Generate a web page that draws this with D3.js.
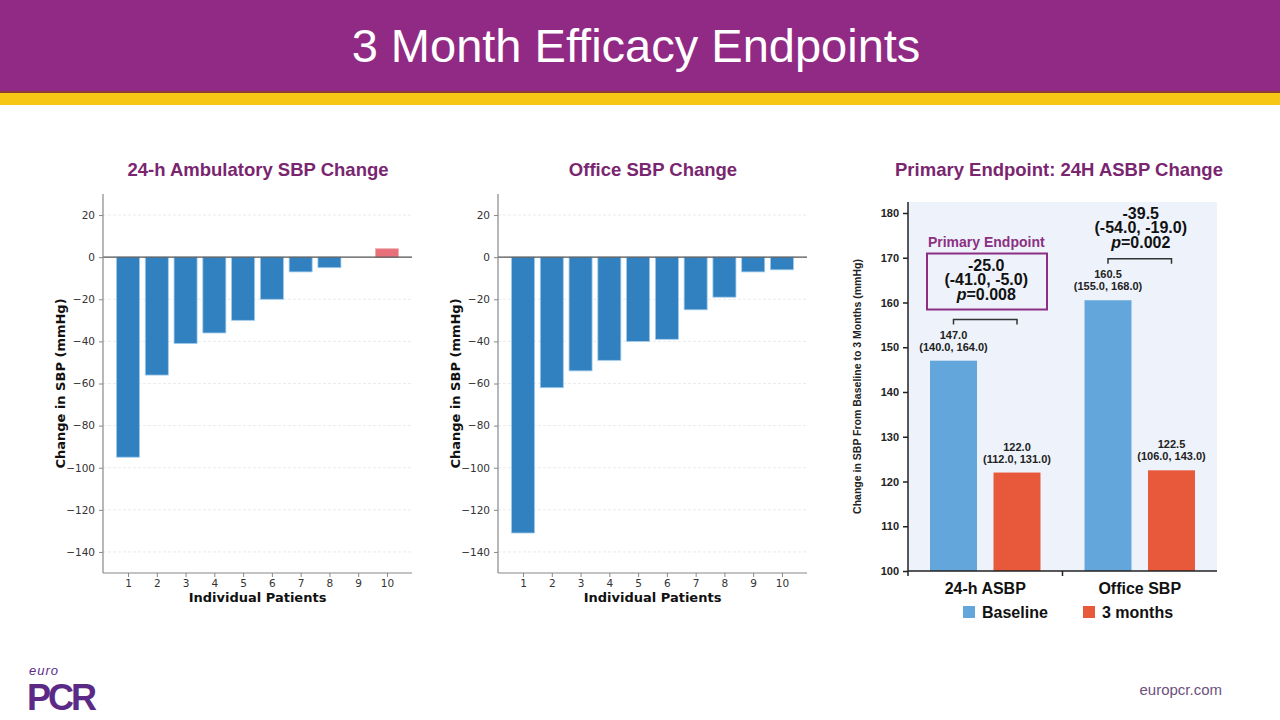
<!DOCTYPE html>
<html>
<head>
<meta charset="utf-8">
<script src="https://cdn.jsdelivr.net/npm/d3@7"></script>
<style>
  body { margin: 0; background: #fff; }
  svg { display: block; }
</style>
</head>
<body>
<svg id="svg" width="1280" height="720"></svg>
<script>
// data
var patients = [1, 2, 3, 4, 5, 6, 7, 8, 9, 10];
var ambulatoryChange = [-95, -56, -41, -36, -30, -20, -7, -5, 0, 4];
var officeChange = [-131, -62, -54, -49, -40, -39, -25, -19, -7, -6];
var changeTicks = [20, 0, -20, -40, -60, -80, -100, -120, -140];

var endpointGroups = ["24-h ASBP", "Office SBP"];
var seriesNames = ["Baseline", "3 months"];
var baselineValues = [147.0, 160.5];
var monthValues = [122.0, 122.5];
var baselineCI = ["(140.0, 164.0)", "(155.0, 168.0)"];
var monthCI = ["(112.0, 131.0)", "(106.0, 143.0)"];
var diffValues = ["-25.0", "-39.5"];
var diffCI = ["(-41.0, -5.0)", "(-54.0, -19.0)"];
var pValues = ["0.008", "0.002"];
var sbpTicks = [100, 110, 120, 130, 140, 150, 160, 170, 180];

var svg = d3.select("#svg");
var slideFont = "'Liberation Sans', Arial, sans-serif";
var mplFont = "'DejaVu Sans', sans-serif";
var purple = "#7a2570";

// header
svg.append("rect").attr("x", 0).attr("y", 0).attr("width", 1280).attr("height", 92).attr("fill", "#912a84");
svg.append("rect").attr("x", 0).attr("y", 91).attr("width", 1280).attr("height", 2).attr("fill", "#8a3b3a");
svg.append("rect").attr("x", 0).attr("y", 93).attr("width", 1280).attr("height", 12).attr("fill", "#f7c716");
svg.append("text").attr("x", 636).attr("y", 62).attr("text-anchor", "middle")
  .style("font-family", slideFont).style("font-size", "47px").attr("fill", "#fff")
  .text("3 Month Efficacy Endpoints");

// panel titles
var titles = [[258, "24-h Ambulatory SBP Change"], [653, "Office SBP Change"], [1059, "Primary Endpoint: 24H ASBP Change"]];
titles.forEach(function (t) {
  svg.append("text").attr("x", t[0]).attr("y", 176).attr("text-anchor", "middle")
    .style("font-family", slideFont).style("font-size", "18.5px").style("font-weight", "bold")
    .attr("fill", purple).text(t[1]);
});

// waterfall bar charts
function waterfall(left, right, values, ylabelX) {
  var g = svg.append("g");
  var y = d3.scaleLinear().domain([-150, 30]).range([573, 194]);
  var x = d3.scaleLinear().domain([0.13, 10.87]).range([left, right]);
  var step = x(2) - x(1);

  // grid
  g.selectAll(".grid").data(changeTicks).enter().append("line")
    .attr("x1", left).attr("x2", right)
    .attr("y1", function (d) { return y(d); }).attr("y2", function (d) { return y(d); })
    .attr("stroke", "#e6e6e6").attr("stroke-width", 0.8).attr("stroke-dasharray", "3,2");

  g.selectAll(".bar").data(values).enter().append("rect")
    .attr("x", function (d, i) { return x(patients[i]) - step * 0.4; })
    .attr("width", step * 0.8)
    .attr("y", function (d) { return y(Math.max(0, d)); })
    .attr("height", function (d) { return Math.abs(y(d) - y(0)); })
    .attr("fill", function (d) { return d > 0 ? "#e8707b" : "#3180bf"; })
    .attr("stroke", function (d) { return d > 0 ? "#f2a8ae" : "#9fcbec"; })
    .attr("stroke-width", 0.8);

  // zero line
  g.append("line").attr("x1", left).attr("x2", right).attr("y1", y(0)).attr("y2", y(0))
    .attr("stroke", "#555").attr("stroke-width", 1.2);

  var yAxis = g.append("g").attr("transform", "translate(" + left + ",0)")
    .call(d3.axisLeft(y).tickValues(changeTicks).tickSize(4).tickPadding(4)
      .tickFormat(function (d) { return d < 0 ? "\u2212" + Math.abs(d) : d; }));
  var xAxis = g.append("g").attr("transform", "translate(0,573)")
    .call(d3.axisBottom(x).tickValues(patients).tickSize(4).tickPadding(3));
  [yAxis, xAxis].forEach(function (a) {
    a.select(".domain").attr("stroke", "#888").attr("stroke-width", 1.2);
    a.selectAll(".tick line").attr("stroke", "#888");
    a.selectAll("text").style("font-family", mplFont).style("font-size", "10.5px").attr("fill", "#333");
  });
  yAxis.select(".domain").attr("d", "M0,573V194");
  xAxis.select(".domain").attr("d", "M" + left + ",0H" + right);

  g.append("text").attr("x", (left + right) / 2).attr("y", 602).attr("text-anchor", "middle")
    .style("font-family", mplFont).style("font-size", "13px").style("font-weight", "bold")
    .attr("fill", "#111").text("Individual Patients");
  g.append("text").attr("transform", "translate(" + ylabelX + "," + y(-60) + ") rotate(-90)")
    .attr("text-anchor", "middle")
    .style("font-family", mplFont).style("font-size", "13px").style("font-weight", "bold")
    .attr("fill", "#111").text("Change in SBP (mmHg)");
}
waterfall(103, 412, ambulatoryChange, 65);
waterfall(498, 807, officeChange, 460);

// grouped bar chart
(function () {
  var left = 908, right = 1217, top = 202, bottom = 571;
  var g = svg.append("g");
  var y = d3.scaleLinear().domain([100, 180]).range([bottom, 213]);
  var x0 = d3.scaleBand().domain(endpointGroups).range([left, right]);
  var x1 = d3.scaleBand().domain(seriesNames).range([22, x0.bandwidth() - 22]).paddingInner(0.26);
  var colors = { "Baseline": "#62a6dc", "3 months": "#e8583b" };

  g.append("rect").attr("x", left).attr("y", top).attr("width", right - left).attr("height", bottom - top)
    .attr("fill", "#eef3fb");

  var rows = endpointGroups.map(function (k, i) {
    return [
      { group: k, series: "Baseline", value: baselineValues[i], ci: baselineCI[i] },
      { group: k, series: "3 months", value: monthValues[i], ci: monthCI[i] }
    ];
  });

  rows.forEach(function (pair) {
    pair.forEach(function (d) {
      var bx = x0(d.group) + x1(d.series);
      var cx = bx + x1.bandwidth() / 2;
      g.append("rect").attr("x", bx).attr("width", x1.bandwidth())
        .attr("y", y(d.value)).attr("height", bottom - y(d.value))
        .attr("fill", colors[d.series]);
      g.append("text").attr("x", cx).attr("y", y(d.value) - 22).attr("text-anchor", "middle")
        .style("font-family", slideFont).style("font-size", "11px").style("font-weight", "bold")
        .attr("fill", "#222").text(d.value.toFixed(1));
      g.append("text").attr("x", cx).attr("y", y(d.value) - 10).attr("text-anchor", "middle")
        .style("font-family", slideFont).style("font-size", "11px").style("font-weight", "bold")
        .attr("fill", "#222").text(d.ci);
    });
  });

  // brackets and difference annotations
  var bracketY = [y(156.2), y(169.8)];
  endpointGroups.forEach(function (k, i) {
    var xa = x0(k) + x1("Baseline") + x1.bandwidth() / 2;
    var xb = x0(k) + x1("3 months") + x1.bandwidth() / 2;
    var by = bracketY[i];
    g.append("path").attr("d", "M" + xa + "," + (by + 5) + "V" + by + "H" + xb + "V" + (by + 5))
      .attr("fill", "none").attr("stroke", "#333").attr("stroke-width", 1.5);
    var cx = x0(k) + x0.bandwidth() / 2;
    var ty = i === 0 ? by - 49 : by - 40;
    var lines = [diffValues[i], diffCI[i]];
    lines.forEach(function (t, j) {
      g.append("text").attr("x", cx + 1).attr("y", ty + j * 14.5).attr("text-anchor", "middle")
        .style("font-family", slideFont).style("font-size", "16px").style("font-weight", "bold")
        .attr("fill", "#111").text(t);
    });
    var pt = g.append("text").attr("x", cx + 1).attr("y", ty + 29).attr("text-anchor", "middle")
      .style("font-family", slideFont).style("font-size", "16px").style("font-weight", "bold")
      .attr("fill", "#111");
    pt.append("tspan").style("font-style", "italic").text("p");
    pt.append("tspan").text("=" + pValues[i]);

    if (i === 0) {
      g.append("rect").attr("x", 927).attr("y", ty - 17).attr("width", 120).attr("height", 56)
        .attr("fill", "none").attr("stroke", "#8c2f84").attr("stroke-width", 2);
      g.append("text").attr("x", cx + 1).attr("y", ty - 24).attr("text-anchor", "middle")
        .style("font-family", slideFont).style("font-size", "14px").style("font-weight", "bold")
        .attr("fill", "#8c2f84").text("Primary Endpoint");
    }
  });

  var yAxis = g.append("g").attr("transform", "translate(" + left + ",0)")
    .call(d3.axisLeft(y).tickValues(sbpTicks).tickSize(5).tickPadding(4));
  yAxis.select(".domain").attr("d", "M0," + bottom + "V" + top).attr("stroke", "#222").attr("stroke-width", 1.5);
  yAxis.selectAll(".tick line").attr("stroke", "#222").attr("stroke-width", 1.5);
  yAxis.selectAll("text").style("font-family", slideFont).style("font-size", "11px")
    .style("font-weight", "bold").attr("fill", "#222");

  g.append("line").attr("x1", left).attr("x2", right).attr("y1", bottom).attr("y2", bottom)
    .attr("stroke", "#222").attr("stroke-width", 1.5);
  g.append("line").attr("x1", x0(endpointGroups[1])).attr("x2", x0(endpointGroups[1]))
    .attr("y1", bottom).attr("y2", bottom + 5).attr("stroke", "#222").attr("stroke-width", 1.5);
  g.append("line").attr("x1", left).attr("x2", left)
    .attr("y1", bottom).attr("y2", bottom + 5).attr("stroke", "#222").attr("stroke-width", 1.5);

  endpointGroups.forEach(function (k) {
    g.append("text").attr("x", x0(k) + x0.bandwidth() / 2).attr("y", 594).attr("text-anchor", "middle")
      .style("font-family", slideFont).style("font-size", "16px").style("font-weight", "bold")
      .attr("fill", "#111").text(k);
  });

  g.append("text").attr("transform", "translate(861," + ((top + bottom) / 2) + ") rotate(-90)")
    .attr("text-anchor", "middle")
    .style("font-family", slideFont).style("font-size", "10.5px").style("font-weight", "bold")
    .attr("fill", "#222").text("Change in SBP From Baseline to 3 Months (mmHg)");

  // legend
  var legendX = [963, 1083];
  seriesNames.forEach(function (s, i) {
    g.append("rect").attr("x", legendX[i]).attr("y", 606).attr("width", 12).attr("height", 12)
      .attr("fill", colors[s]);
    g.append("text").attr("x", legendX[i] + 19).attr("y", 618)
      .style("font-family", slideFont).style("font-size", "16px").style("font-weight", "bold")
      .attr("fill", "#111").text(s);
  });
})();

// footer
svg.append("text").attr("x", 29).attr("y", 675)
  .style("font-family", slideFont).style("font-size", "13px").style("font-style", "italic")
  .style("letter-spacing", "1px").attr("fill", "#5b2a86").text("euro");
svg.append("text").attr("x", 27).attr("y", 710)
  .style("font-family", slideFont).style("font-size", "36px").style("font-weight", "bold")
  .style("letter-spacing", "-3px").attr("fill", "#5b2a86").text("PCR");
svg.append("text").attr("x", 1222).attr("y", 695).attr("text-anchor", "end")
  .style("font-family", slideFont).style("font-size", "15px")
  .attr("fill", "#6d4f7d").text("europcr.com");
</script>
</body>
</html>
